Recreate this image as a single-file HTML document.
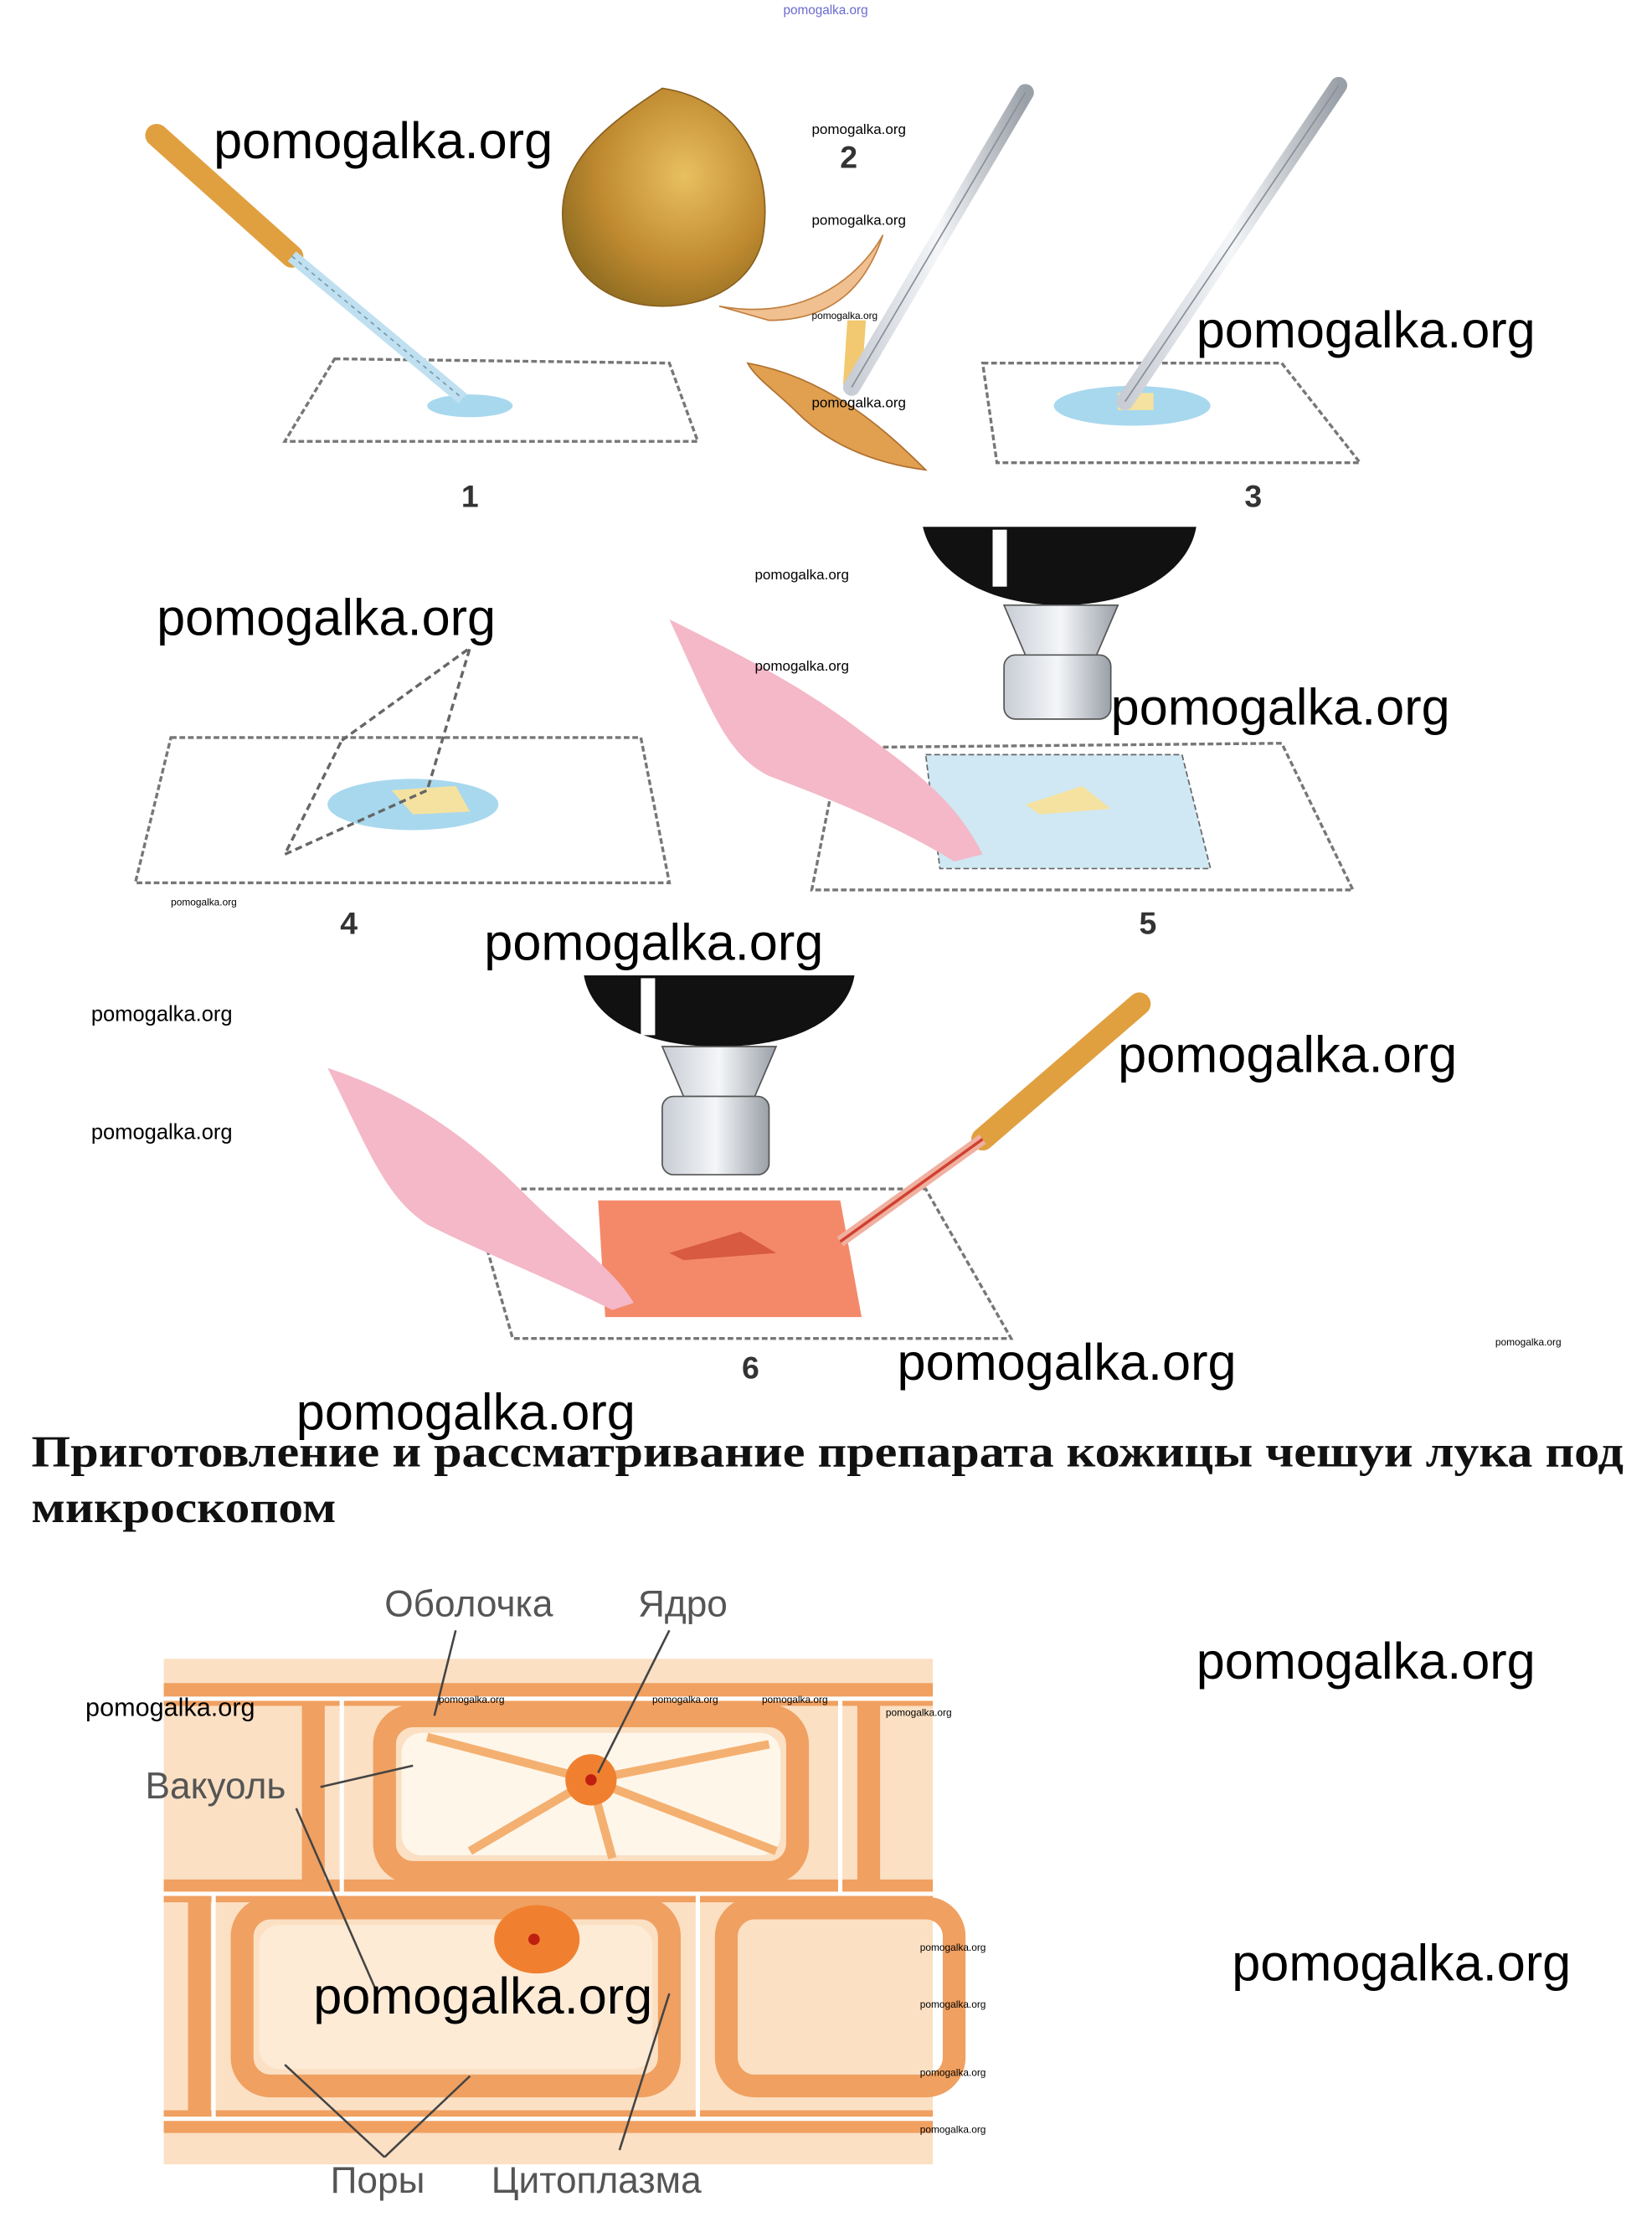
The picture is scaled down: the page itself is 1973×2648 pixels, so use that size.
<!DOCTYPE html>
<html><head><meta charset="utf-8"><style>
html,body{margin:0;padding:0;background:#fff;}
svg{display:block;}
</style></head><body>
<svg width="1973" height="2648" viewBox="0 0 1160 1557" preserveAspectRatio="none" xmlns="http://www.w3.org/2000/svg" font-family="Liberation Sans, sans-serif">
<defs>
<radialGradient id="on" cx="0.6" cy="0.4" r="0.7"><stop offset="0" stop-color="#e8c060"/><stop offset="0.6" stop-color="#c08a30"/><stop offset="1" stop-color="#8a6a20"/></radialGradient>
<linearGradient id="gl" x1="0" x2="1"><stop offset="0" stop-color="#c8ccd4"/><stop offset="0.5" stop-color="#f4f6f8"/><stop offset="1" stop-color="#9aa0a8"/></linearGradient>
</defs>
<text x="550" y="10" font-size="9" fill="#6a6ad0">pomogalka.org</text>
<!-- Panel 1 -->
<polygon points="235,252 470,255 490,310 200,310" fill="#fff" stroke="#777" stroke-width="2" stroke-dasharray="4,2"/>
<ellipse cx="330" cy="285" rx="30" ry="8" fill="#a8d8ee"/>
<line x1="110" y1="95" x2="205" y2="180" stroke="#e0a040" stroke-width="16" stroke-linecap="round"/>
<line x1="205" y1="180" x2="325" y2="280" stroke="#bfe0f0" stroke-width="9"/>
<line x1="205" y1="180" x2="325" y2="280" stroke="#7a9aaa" stroke-width="1" stroke-dasharray="3,3"/>
<!-- Onion -->
<path d="M465,62 C520,70 545,120 535,170 C525,205 490,215 465,215 C425,215 395,190 395,150 C395,110 430,85 465,62 Z" fill="url(#on)" stroke="#8a6020"/>
<path d="M505,215 C560,225 600,200 620,165 C610,195 590,225 540,225 Z" fill="#f0c090" stroke="#c08040"/>
<path d="M525,255 C580,265 620,300 650,330 C610,325 580,310 560,290 C545,275 530,265 525,255 Z" fill="#e0a050" stroke="#b07030"/>
<path d="M595,225 L608,225 L605,270 L592,270 Z" fill="#f2c870"/>
<!-- Pipette 2 -->
<line x1="720" y1="65" x2="598" y2="272" stroke="url(#gl)" stroke-width="12" stroke-linecap="round"/>
<line x1="720" y1="65" x2="598" y2="272" stroke="#8a8f98" stroke-width="1"/>
<!-- Panel 3 -->
<polygon points="690,255 900,255 955,325 700,325" fill="#fff" stroke="#777" stroke-width="2" stroke-dasharray="4,2"/>
<ellipse cx="795" cy="285" rx="55" ry="14" fill="#a8d8ee"/>
<rect x="785" y="276" width="25" height="12" fill="#f5e2a0"/>
<line x1="940" y1="60" x2="790" y2="282" stroke="url(#gl)" stroke-width="12" stroke-linecap="round"/>
<line x1="940" y1="60" x2="790" y2="282" stroke="#8a8f98" stroke-width="1"/>
<!-- numbers -->
<g font-weight="bold" font-size="22" fill="#333" text-anchor="middle">
<text x="330" y="356">1</text><text x="596" y="118">2</text><text x="880" y="356">3</text>
<text x="245" y="656">4</text><text x="806" y="656">5</text><text x="527" y="968">6</text>
</g>
<!-- Panel 4 -->
<polygon points="120,518 450,518 470,620 95,620" fill="#fff" stroke="#777" stroke-width="2" stroke-dasharray="4,2"/>
<ellipse cx="290" cy="565" rx="60" ry="18" fill="#a8d8ee"/>
<polygon points="275,555 320,552 330,570 290,572" fill="#f5e2a0"/>
<polygon points="240,520 330,455 300,555 200,600" fill="none" stroke="#666" stroke-width="2" stroke-dasharray="5,3"/>
<!-- Panel 5 -->
<polygon points="590,525 900,522 950,625 570,625" fill="#fff" stroke="#777" stroke-width="2" stroke-dasharray="4,2"/>
<polygon points="650,530 830,530 850,610 660,610" fill="#cfe8f4" stroke="#666" stroke-dasharray="4,2"/>
<polygon points="720,565 760,552 780,568 730,572" fill="#f5e2a0"/>
<path d="M470,435 C520,460 560,480 600,510 C640,540 670,560 690,600 L670,605 C630,580 580,560 540,545 C510,530 500,500 470,435 Z" fill="#f4b8c8"/>
<path d="M648,370 L840,370 C835,400 800,425 745,425 C690,425 655,400 648,370 Z" fill="#111"/>
<rect x="697" y="372" width="10" height="40" fill="#fff"/>
<polygon points="705,425 785,425 770,460 720,460" fill="url(#gl)" stroke="#555"/>
<rect x="705" y="460" width="75" height="45" rx="8" fill="url(#gl)" stroke="#555"/>
<!-- Panel 6 -->
<polygon points="330,835 650,835 710,940 360,940" fill="#fff" stroke="#777" stroke-width="2" stroke-dasharray="4,2"/>
<polygon points="420,843 590,843 605,925 425,925" fill="#f4896a"/>
<polygon points="470,880 520,865 545,880 480,885" fill="#d85a40"/>
<path d="M230,750 C290,770 330,800 370,840 C400,870 430,890 445,915 L430,920 C390,900 340,880 300,860 C270,840 260,810 230,750 Z" fill="#f4b8c8"/>
<path d="M410,685 L600,685 C595,715 560,735 505,735 C450,735 415,715 410,685 Z" fill="#111"/>
<rect x="450" y="687" width="10" height="40" fill="#fff"/>
<polygon points="465,735 545,735 530,770 480,770" fill="url(#gl)" stroke="#555"/>
<rect x="465" y="770" width="75" height="55" rx="8" fill="url(#gl)" stroke="#555"/>
<line x1="800" y1="705" x2="690" y2="800" stroke="#e0a040" stroke-width="16" stroke-linecap="round"/>
<line x1="690" y1="800" x2="590" y2="872" stroke="#f0b0a0" stroke-width="8"/>
<line x1="690" y1="800" x2="590" y2="872" stroke="#d04030" stroke-width="2"/>
<!-- heading -->
<g font-family="Liberation Serif, serif" font-weight="bold" font-size="31" fill="#111">
<text x="22" y="1030" textLength="1118" lengthAdjust="spacingAndGlyphs">Приготовление и рассматривание препарата кожицы чешуи лука под</text>
<text x="22" y="1069" textLength="214" lengthAdjust="spacingAndGlyphs">микроскопом</text>
</g>
<!-- cells -->
<rect x="115" y="1165" width="540" height="355" fill="#fbe0c4"/>
<g fill="none" stroke="#f0a060" stroke-width="16">
<rect x="270" y="1205" width="290" height="110" rx="20"/>
<rect x="170" y="1340" width="300" height="125" rx="20"/>
<rect x="510" y="1340" width="160" height="125" rx="20"/>
<line x1="115" y1="1190" x2="655" y2="1190"/>
<line x1="115" y1="1328" x2="655" y2="1328"/>
<line x1="115" y1="1490" x2="655" y2="1490"/>
<line x1="220" y1="1190" x2="220" y2="1328"/>
<line x1="610" y1="1190" x2="610" y2="1328"/>
<line x1="140" y1="1328" x2="140" y2="1490"/>
</g>
<g fill="none" stroke="#fff" stroke-width="3">
<line x1="115" y1="1193" x2="655" y2="1193"/>
<line x1="115" y1="1330" x2="655" y2="1330"/>
<line x1="115" y1="1488" x2="655" y2="1488"/>
<line x1="240" y1="1193" x2="240" y2="1330"/>
<line x1="590" y1="1193" x2="590" y2="1330"/>
<line x1="490" y1="1330" x2="490" y2="1488"/>
<line x1="150" y1="1330" x2="150" y2="1488"/>
</g>
<rect x="282" y="1217" width="266" height="86" rx="14" fill="#fff6ea"/>
<rect x="182" y="1352" width="276" height="101" rx="14" fill="#fdebd6"/>
<g stroke="#f4b070" stroke-width="6">
<line x1="415" y1="1250" x2="300" y2="1220"/><line x1="415" y1="1250" x2="545" y2="1300"/>
<line x1="415" y1="1250" x2="330" y2="1300"/><line x1="415" y1="1250" x2="540" y2="1225"/>
<line x1="415" y1="1250" x2="430" y2="1305"/>
</g>
<circle cx="415" cy="1250" r="18" fill="#f08030"/><circle cx="415" cy="1250" r="4" fill="#c02010"/>
<ellipse cx="377" cy="1362" rx="30" ry="24" fill="#f08030"/><circle cx="375" cy="1362" r="4" fill="#c02010"/>
<g stroke="#444" stroke-width="1.5" fill="none">
<line x1="320" y1="1145" x2="305" y2="1205"/>
<line x1="470" y1="1145" x2="420" y2="1245"/>
<line x1="225" y1="1255" x2="290" y2="1240"/>
<line x1="208" y1="1270" x2="265" y2="1400"/>
<line x1="270" y1="1515" x2="200" y2="1450"/>
<line x1="270" y1="1515" x2="330" y2="1458"/>
<line x1="435" y1="1510" x2="470" y2="1400"/>
</g>
<g font-size="26" fill="#555">
<text x="270" y="1135">Оболочка</text><text x="448" y="1135">Ядро</text>
<text x="102" y="1263">Вакуоль</text><text x="232" y="1540">Поры</text><text x="345" y="1540">Цитоплазма</text>
</g>
<!-- watermarks -->
<g font-size="36" fill="#000">
<text x="150" y="111">pomogalka.org</text><text x="840" y="244">pomogalka.org</text>
<text x="110" y="446">pomogalka.org</text><text x="780" y="509">pomogalka.org</text>
<text x="340" y="674">pomogalka.org</text><text x="785" y="753">pomogalka.org</text>
<text x="630" y="969">pomogalka.org</text><text x="208" y="1004">pomogalka.org</text>
<text x="840" y="1179">pomogalka.org</text><text x="865" y="1391">pomogalka.org</text>
<text x="220" y="1414">pomogalka.org</text>
</g>
<g font-size="18" fill="#000"><text x="60" y="1205">pomogalka.org</text></g>
<g font-size="15" fill="#000"><text x="64" y="717">pomogalka.org</text><text x="64" y="800">pomogalka.org</text></g>
<g font-size="10" fill="#000">
<text x="570" y="94">pomogalka.org</text><text x="570" y="158">pomogalka.org</text><text x="570" y="286">pomogalka.org</text>
<text x="530" y="407">pomogalka.org</text><text x="530" y="471">pomogalka.org</text>
</g>
<g font-size="7" fill="#000">
<text x="570" y="224">pomogalka.org</text><text x="120" y="636">pomogalka.org</text><text x="1050" y="945">pomogalka.org</text>
<text x="308" y="1196">pomogalka.org</text><text x="458" y="1196">pomogalka.org</text><text x="535" y="1196">pomogalka.org</text>
<text x="622" y="1205">pomogalka.org</text><text x="646" y="1370">pomogalka.org</text><text x="646" y="1410">pomogalka.org</text>
<text x="646" y="1458">pomogalka.org</text><text x="646" y="1498">pomogalka.org</text>
</g>
</svg>
</body></html>
